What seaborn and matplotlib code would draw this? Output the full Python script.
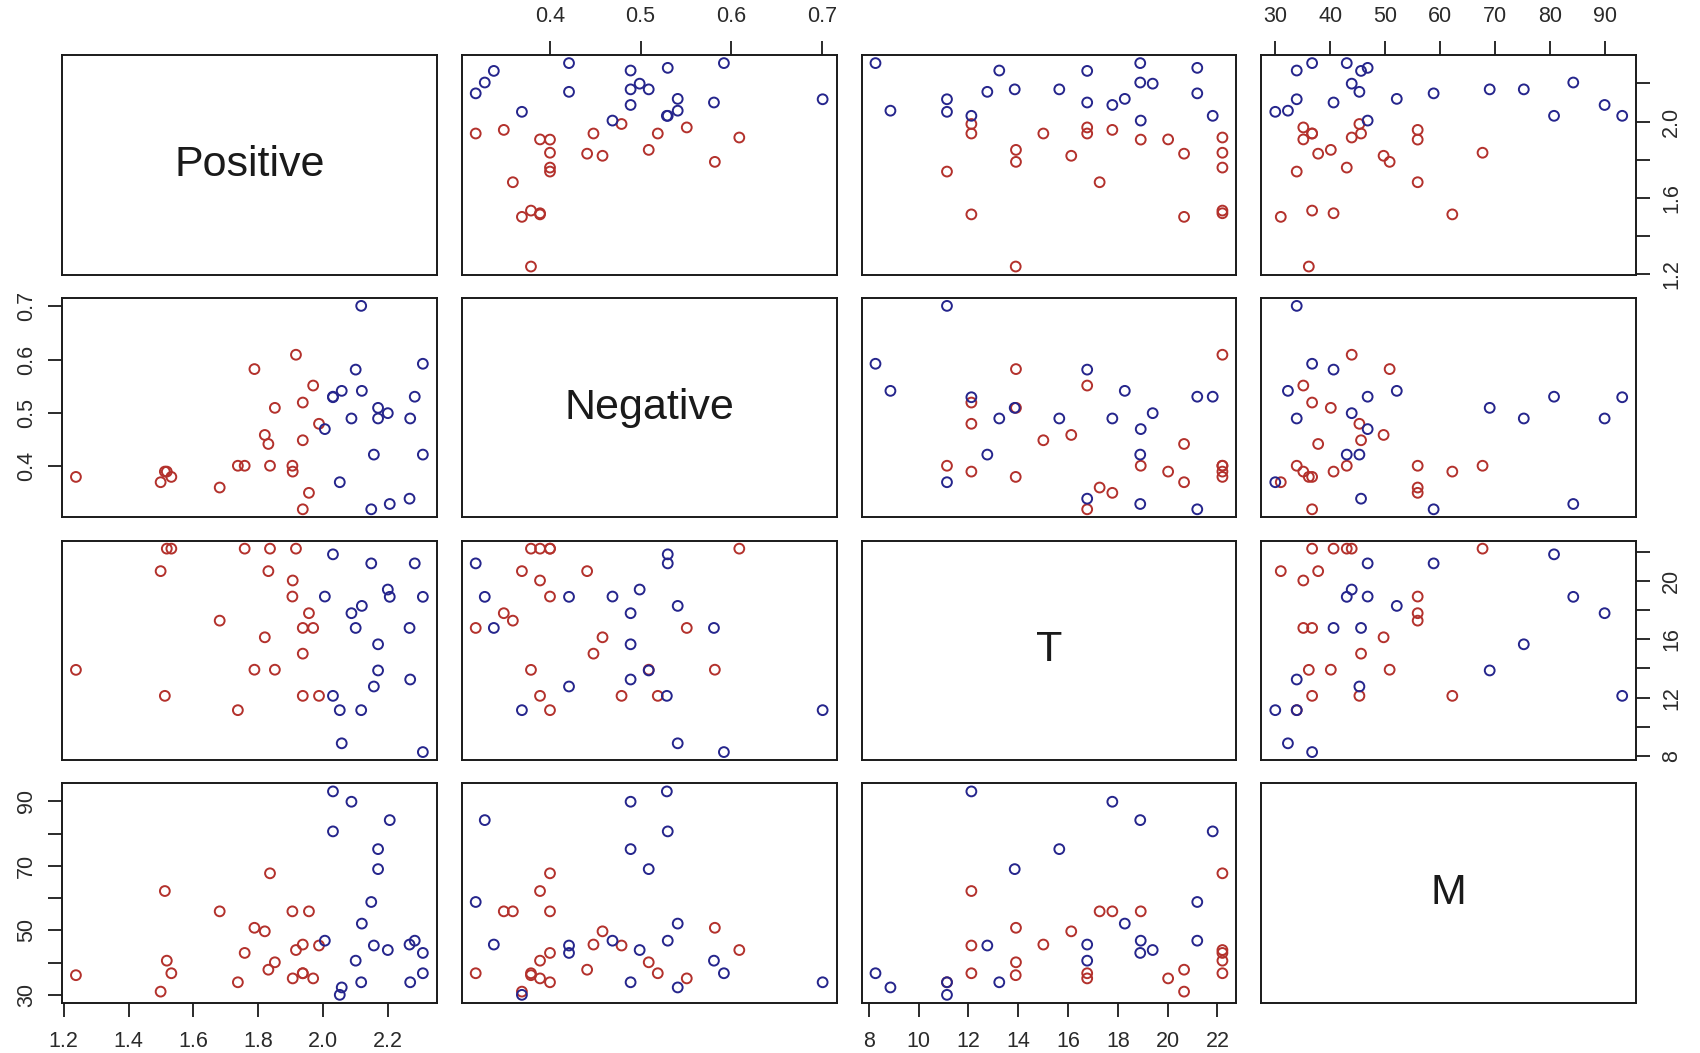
import pandas as pd
import matplotlib
matplotlib.use("Agg")
import matplotlib.pyplot as plt
import seaborn as sns

# values, red group first then blue group
group = ["red"] * 22 + ["blue"] * 20
positive = [1.238, 1.499, 1.512, 1.518, 1.532, 1.681, 1.737, 1.758, 1.788, 1.820, 1.831,
            1.836, 1.851, 1.905, 1.906, 1.916, 1.937, 1.937, 1.937, 1.956, 1.969, 1.987,
            2.005, 2.030, 2.030, 2.051, 2.057, 2.087, 2.100, 2.117, 2.119, 2.148,
            2.156, 2.169, 2.169, 2.199, 2.205, 2.266, 2.268, 2.282, 2.307, 2.307]
negative = [0.379, 0.369, 0.389, 0.389, 0.379, 0.359, 0.400, 0.400, 0.582, 0.458, 0.441,
            0.400, 0.509, 0.400, 0.389, 0.609, 0.519, 0.448, 0.318, 0.349, 0.551, 0.479,
            0.469, 0.530, 0.529, 0.369, 0.541, 0.489, 0.581, 0.701, 0.541, 0.318,
            0.421, 0.489, 0.509, 0.499, 0.328, 0.338, 0.489, 0.530, 0.421, 0.592]
t_vals = [13.9, 20.66, 12.12, 22.2, 22.2, 17.27, 11.14, 22.2, 13.91, 16.13, 20.66,
          22.2, 13.91, 18.92, 20.02, 22.2, 12.12, 15.01, 16.77, 17.78, 16.77, 12.12,
          18.92, 21.81, 12.12, 11.14, 8.87, 17.78, 16.77, 11.14, 18.28, 21.19,
          12.76, 15.65, 13.86, 19.40, 18.9, 16.77, 13.24, 21.19, 18.9, 8.27]
m_vals = [36.1, 31.0, 62.2, 40.6, 36.7, 55.9, 33.9, 43.0, 50.8, 49.7, 37.8,
          67.7, 40.1, 55.9, 35.1, 43.9, 36.7, 45.6, 36.7, 55.9, 35.1, 45.3,
          46.8, 80.7, 93.1, 30.0, 32.3, 89.9, 40.6, 33.9, 52.1, 58.8,
          45.3, 75.2, 69.0, 43.9, 84.2, 45.6, 33.9, 46.8, 43.0, 36.7]

variables = ["Positive", "Negative", "T", "M"]
tick_pos = {
    "Positive": [1.2, 1.4, 1.6, 1.8, 2.0, 2.2],
    "Negative": [0.4, 0.5, 0.6, 0.7],
    "T": [8, 10, 12, 14, 16, 18, 20, 22],
    "M": [30, 40, 50, 60, 70, 80, 90],
}
# rotated y labels: R drops every other one when they would overlap
y_labels = {
    "Positive": ["1.2", "", "1.6", "", "2.0", ""],
    "Negative": ["0.4", "0.5", "0.6", "0.7"],
    "T": ["8", "", "12", "", "16", "", "20", ""],
    "M": ["30", "", "50", "", "70", "", "90"],
}
x_labels = {
    "Positive": ["1.2", "1.4", "1.6", "1.8", "2.0", "2.2"],
    "Negative": ["0.4", "0.5", "0.6", "0.7"],
    "T": ["8", "10", "12", "14", "16", "18", "20", "22"],
    "M": ["30", "40", "50", "60", "70", "80", "90"],
}
palette = {"red": "#b3312c", "blue": "#25258c"}

df = pd.DataFrame({"Positive": positive, "Negative": negative, "T": t_vals,
                   "M": m_vals, "group": group})

sns.set_style("ticks")
plt.rcParams["font.family"] = ["Liberation Sans", "DejaVu Sans"]

# R style limits: data range plus 4% each side
lims = {}
for v in variables:
    lo, hi = df[v].min(), df[v].max()
    pad = 0.04 * (hi - lo)
    lims[v] = (lo - pad, hi + pad)

fig, axes = plt.subplots(4, 4, figsize=(17, 10.53), dpi=100)
fig.subplots_adjust(left=0.0365, right=0.9624, bottom=0.0475, top=0.9478,
                    wspace=0.067, hspace=0.105)

text_col = "#2a2a2a"
for i, yv in enumerate(variables):
    for j, xv in enumerate(variables):
        ax = axes[i, j]
        if i == j:
            ax.text(0.5, 0.5, yv, ha="center", va="center", fontsize=31,
                    color="#1a1a1a", transform=ax.transAxes)
        else:
            for g, col in palette.items():
                sub = df[df["group"] == g]
                sns.scatterplot(x=sub[xv], y=sub[yv], ax=ax, marker="o", s=50,
                                facecolor="none", edgecolor=col, linewidth=1.4)
        ax.set_xlim(lims[xv])
        ax.set_ylim(lims[yv])
        ax.set_xlabel("")
        ax.set_ylabel("")
        ax.set_xticks([])
        ax.set_yticks([])
        for sp in ax.spines.values():
            sp.set_linewidth(1.4)
            sp.set_color("#1a1a1a")

# x axes alternate bottom / top, y axes alternate left / right
for j, xv in enumerate(variables):
    if j % 2 == 0:
        ax = axes[3, j]
        ax.xaxis.tick_bottom()
    else:
        ax = axes[0, j]
        ax.xaxis.tick_top()
    ax.set_xticks(tick_pos[xv], x_labels[xv])
    ax.tick_params(axis="x", length=10, width=1.3, pad=10, labelsize=15.5,
                   labelcolor=text_col, color="#1a1a1a")

for i, yv in enumerate(variables):
    if i % 2 == 1:
        ax = axes[i, 0]
        ax.yaxis.tick_left()
    else:
        ax = axes[i, 3]
        ax.yaxis.tick_right()
    ax.set_yticks(tick_pos[yv], y_labels[yv], rotation=90, va="center")
    ax.tick_params(axis="y", length=10, width=1.3, pad=8, labelsize=15.5,
                   labelcolor=text_col, color="#1a1a1a")

plt.savefig("out.png", dpi=100)
plt.close()
